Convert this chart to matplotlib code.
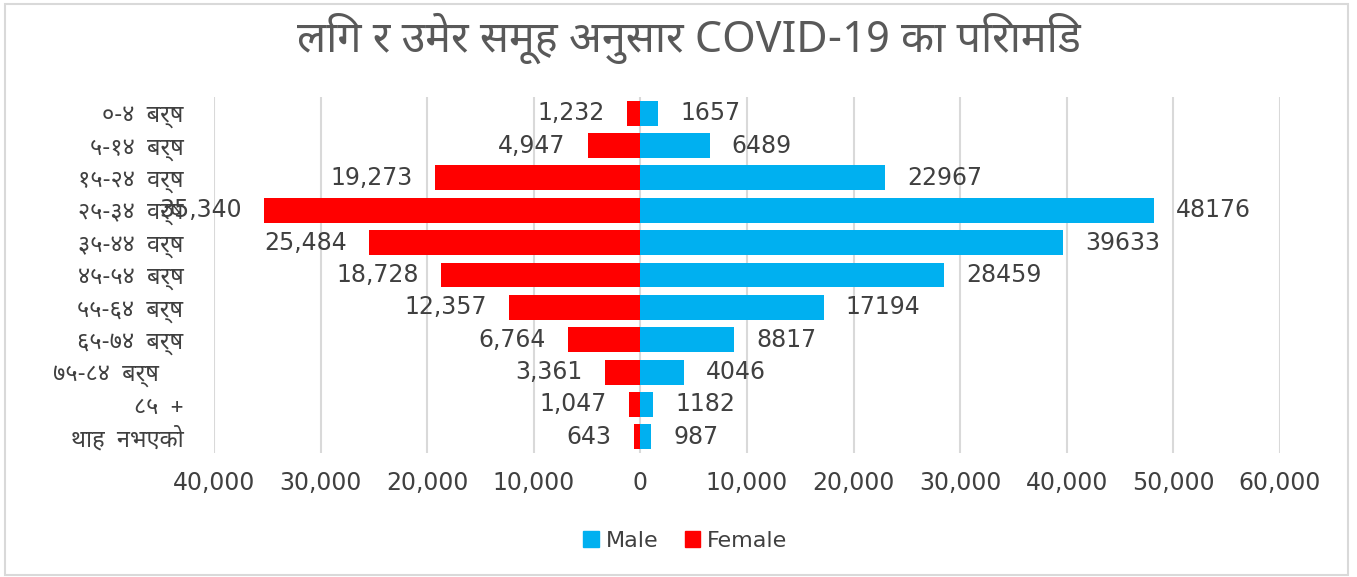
import matplotlib
matplotlib.use("Agg")
import matplotlib.pyplot as plt
from matplotlib import font_manager
from matplotlib.ft2font import FT2Font
from matplotlib.ticker import FuncFormatter
from matplotlib.patches import Rectangle, Patch

# data
age_groups = ['०-४  बर्ष', '५-१४  बर्ष', '१५-२४  वर्ष', '२५-३४  वर्ष', '३५-४४  वर्ष',
              '४५-५४  बर्ष', '५५-६४  बर्ष', '६५-७४  बर्ष', '७५-८४  बर्ष    ', '८५  +', 'थाह  नभएको']
male = [1657, 6489, 22967, 48176, 39633, 28459, 17194, 8817, 4046, 1182, 987]
female = [1232, 4947, 19273, 35340, 25484, 18728, 12357, 6764, 3361, 1047, 643]
x_ticks = [-40000, -30000, -20000, -10000, 0, 10000, 20000, 30000, 40000, 50000, 60000]
title = 'लिग र उमेर समूह अनुसार COVID-19 का पिरामिड'

MALE_C = '#00B0F0'
FEMALE_C = '#FF0000'
TXT = '#404040'


#look for fonts that actually have devanagari glyphs, skip monospace ones
def find_font(chars):
    found = []
    for f in font_manager.fontManager.ttflist:
        try:
            cmap = FT2Font(f.fname).get_charmap()
        except Exception:
            continue
        if all(ord(c) in cmap for c in chars):
            found.append(f.name)
    if not found:
        return None
    prefs = ['Noto Sans Devanagari', 'Lohit Devanagari', 'Mukta', 'Hind', 'Gargi',
             'Kalimati', 'Nakula', 'Sahadeva', 'FreeSans', 'FreeSerif']
    for p in prefs:
        if p in found:
            return p
    others = [n for n in found if 'mono' not in n.lower()]
    return others[0] if others else found[0]


deva = find_font('कबर्ष')
fam = [deva, 'DejaVu Sans'] if deva else ['DejaVu Sans']
plt.rcParams['font.family'] = fam

fig = plt.figure(figsize=(13.57, 5.77), dpi=100)
ax = fig.add_axes([214 / 1357, 1 - 453 / 577, 1066 / 1357, 356 / 577])

y = list(range(len(age_groups)))
ax.barh(y, male, height=0.77, color=MALE_C, label='Male', zorder=2)
ax.barh(y, [-v for v in female], height=0.77, color=FEMALE_C, label='Female', zorder=2)

for i in y:
    ax.annotate(str(male[i]), (male[i], i), xytext=(16, 0), textcoords='offset points',
                ha='left', va='center', fontsize=17, color=TXT, family='DejaVu Sans')
    ax.annotate('{:,}'.format(female[i]), (-female[i], i), xytext=(-16, 0), textcoords='offset points',
                ha='right', va='center', fontsize=17, color=TXT, family='DejaVu Sans')

ax.set_xlim(-40000, 60000)
ax.set_ylim(len(age_groups) - 0.5, -0.5)
ax.set_xticks(x_ticks)
ax.xaxis.set_major_formatter(FuncFormatter(lambda v, p: '{:,}'.format(int(abs(v)))))
ax.set_yticks(y)
ax.set_yticklabels(age_groups, fontsize=17, color=TXT)
for lab in ax.get_xticklabels():
    lab.set_fontsize(17)
    lab.set_color(TXT)
    lab.set_family('DejaVu Sans')
ax.tick_params(axis='x', length=0, pad=13)
ax.tick_params(axis='y', length=0, pad=22)
ax.grid(axis='x', color='#D9D9D9', linewidth=1.5, zorder=0)
ax.set_axisbelow(True)
for s in ax.spines.values():
    s.set_visible(False)

fig.text(0.508, 1 - 38 / 577, title, ha='center', va='center', fontsize=31, color='#595959')

handles = [Patch(color=MALE_C, label='Male'), Patch(color=FEMALE_C, label='Female')]
fig.legend(handles=handles, loc='center', bbox_to_anchor=(0.505, 1 - 541 / 577), ncol=2,
           frameon=False, handlelength=0.7, handleheight=0.7, handletextpad=0.3,
           columnspacing=1.2, labelcolor=TXT, prop={'family': 'DejaVu Sans', 'size': 16})

# chart border
fig.patches.append(Rectangle((5 / 1357, 2 / 577), 1343 / 1357, 571 / 577, transform=fig.transFigure,
                             fill=False, edgecolor='#D9D9D9', linewidth=1.5))

fig.savefig('out.png', dpi=100)
